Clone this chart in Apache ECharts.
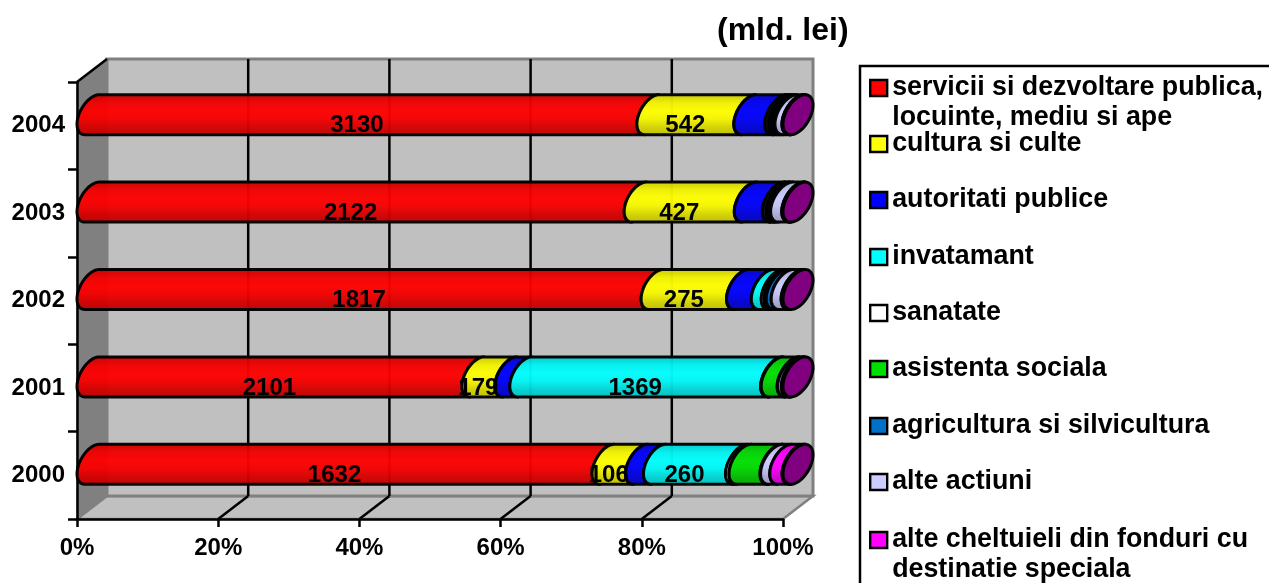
<!DOCTYPE html>
<html><head><meta charset="utf-8">
<style>html,body{margin:0;padding:0;background:#fff;overflow:hidden}#c{width:1269px;height:583px}</style>
<script src="https://cdn.jsdelivr.net/npm/echarts@6/dist/echarts.min.js"></script>
</head><body><div id="c"></div>
<script>
var years = ['2000','2001','2002','2003','2004'];
var seriesNames = ['servicii si dezvoltare publica,\nlocuinte, mediu si ape','cultura si culte','autoritati publice','invatamant','sanatate','asistenta sociala','agricultura si silvicultura','alte actiuni','alte cheltuieli din fonduri cu\ndestinatie speciala','alte'];
var colors = ['#ff0000','#ffff00','#0000ff','#00ffff','#ffffff','#00e000','#0070c8','#ccccff','#ff00ff','#800080'];
var servicii = [1632,2101,1817,2122,3130];
var cultura  = [106,179,275,427,542];
var autoritati = [57,82,80,109,173];
var invatamant = [260,1369,32,4,6];
var sanatate = [11,3,10,12,17];
var asistenta = [98,87,6,4,17];
var agricultura = [2,3,16,12,17];
var alteActiuni = [29,20,32,43,39];
var alteFonduri = [39,4,3,3,3];
var altele = [3,5,3,2,3];
var valueLists = [servicii,cultura,autoritati,invatamant,sanatate,asistenta,agricultura,alteActiuni,alteFonduri,altele];
var shownLabels = [servicii,cultura,null,[260,1369,null,null,null],null,null,null,null,null,null];
var xTicks = [0,20,40,60,80,100];

var totals = years.map(function(_,i){var s=0;valueLists.forEach(function(l){s+=l[i]});return s});
var DX=30, DY=-23;
var chart = echarts.init(document.getElementById('c'));

function arc(cx,cy,rev){
  var t0=Math.atan2(9.5,17.6), pts=[], n=28;
  for(var k=0;k<=n;k++){var t=t0-Math.PI*k/n; pts.push([cx+15*Math.sin(t), cy-17.6*Math.cos(t)-9.5*Math.sin(t)]);}
  return rev?pts.reverse():pts;
}
function shade(hex,top,bot){
  var c=echarts.color.parse(hex);
  function d(f){return 'rgb('+Math.round(c[0]*f)+','+Math.round(c[1]*f)+','+Math.round(c[2]*f)+')';}
  return {type:'linear',x:0,y:top,x2:0,y2:bot,global:true,colorStops:[{offset:0,color:d(.78)},{offset:.22,color:d(.95)},{offset:.42,color:d(1)},{offset:.6,color:d(.96)},{offset:.82,color:d(.82)},{offset:1,color:d(.74)}]};
}
var series=[];
series.push({type:'custom',silent:true,z:1,data:[0],renderItem:function(p,api){
  var topY=p.coordSys.y; var botY=p.coordSys.y+p.coordSys.height;
  var x0=p.coordSys.x,x1=p.coordSys.x+p.coordSys.width;
  var kids=[
   {type:'polygon',shape:{points:[[x0,topY],[x0+DX,topY+DY],[x0+DX,botY+DY],[x0,botY]]},style:{fill:'#808080',stroke:'#6a6a6a',lineWidth:1}},
   {type:'polygon',shape:{points:[[x0,botY],[x1,botY],[x1+DX,botY+DY],[x0+DX,botY+DY]]},style:{fill:'#c0c0c0',stroke:'#808080',lineWidth:2.5}},
   {type:'rect',shape:{x:x0+DX,y:topY+DY,width:x1-x0,height:botY-topY},style:{fill:'#c0c0c0',stroke:'#808080',lineWidth:3}}
  ];
  xTicks.slice(1,5).forEach(function(v){var x=api.coord([v,0])[0];
    kids.push({type:'line',shape:{x1:x+DX,y1:topY+DY,x2:x+DX,y2:botY+DY},style:{stroke:'#000',lineWidth:2.5}});
    kids.push({type:'line',shape:{x1:x,y1:botY,x2:x+DX,y2:botY+DY},style:{stroke:'#000',lineWidth:2.5}});
  });
  kids.push({type:'line',shape:{x1:x0,y1:topY,x2:x0+DX,y2:topY+DY},style:{stroke:'#000',lineWidth:2.5}});
  return {type:'group',children:kids};
}});
valueLists.forEach(function(vals,si){
  series.push({type:'custom',name:seriesNames[si],silent:true,z:3,
   itemStyle:{color:colors[si]},
   data:vals.map(function(v,i){var b=0;for(var k=0;k<si;k++)b+=valueLists[k][i];
      return [b/totals[i]*100,(b+v)/totals[i]*100,i,v];}),
   encode:{x:[0,1],y:2},
   renderItem:function(p,api){
    var l=api.value(0),r=api.value(1),c=api.value(2);
    var pl=api.coord([l,c]),pr=api.coord([r,c]);
    var cy=pl[1]-11, xl=pl[0]+15, xr=pr[0]+15;
    var fill=shade(colors[si],cy-21,cy+21);
    var kids=[];
    var pts=arc(xl,cy,false).concat(arc(xr,cy,true));
    kids.push({type:'polygon',shape:{points:pts},style:{fill:fill,stroke:'#000',lineWidth:3,lineJoin:'round',opacity:.96}});
    if(si===valueLists.length-1){
      var a1=arc(xr,cy,false),a2=a1.map(function(q){return [2*xr-q[0],2*cy-q[1]]});
      kids.push({type:'polygon',shape:{points:a1.concat(a2)},style:{fill:colors[si],stroke:'#000',lineWidth:3}});
    }
    return {type:'group',children:kids};
   }});
});
shownLabels.forEach(function(vals,si){
  if(!vals)return;
  series.push({type:'custom',silent:true,z:5,
   data:vals.map(function(v,i){var b=0;for(var k=0;k<si;k++)b+=valueLists[k][i];
      return [b/totals[i]*100,(b+valueLists[si][i])/totals[i]*100,i,v===null?'':v];}),
   encode:{x:[0,1],y:2},
   renderItem:function(p,api){
    var l=api.value(0),r=api.value(1),c=api.value(2);
    var i=p.dataIndex, v=vals[i];
    if(v===null)return null;
    var pl=api.coord([l,c]),pr=api.coord([r,c]);
    return {type:'text',style:{x:(pl[0]+pr[0])/2,y:pl[1],text:String(v),fill:'#000',font:'bold 24px "Liberation Sans"',align:'center',verticalAlign:'middle'}};
   }});
});
var symbolCenters=[88,144,200,257,313,369,426,482,540];
var legends=symbolCenters.map(function(cy,i){
  var two=seriesNames[i].indexOf('\n')>=0;
  return {show:true,left:864,top:two?cy-50:cy-20,padding:5,orient:'vertical',data:[{name:seriesNames[i],icon:'rect'}],itemWidth:17,itemHeight:16,itemGap:0,
    selectedMode:false,
    itemStyle:{borderColor:'#000',borderWidth:2.4},
    textStyle:{fontFamily:'Liberation Sans',fontWeight:'bold',fontSize:26.8,color:'#000',lineHeight:30},
    formatter:function(n){return two?'\u00a0\n'+n:n}};
});
chart.setOption({
 animation:false,backgroundColor:'#fff',
 title:{text:'(mld. lei)',left:712,top:10,textStyle:{fontFamily:'Liberation Sans',fontWeight:'bold',fontSize:32,color:'#000'}},
 legend:legends,
 grid:{left:77,top:82,width:706,height:437,containLabel:false},
 xAxis:{type:'value',min:0,max:100,interval:20,z:2,
   axisLine:{show:true,lineStyle:{color:'#000',width:2.5},onZero:false},
   axisTick:{show:true,length:8,lineStyle:{color:'#000',width:2.5}},
   splitLine:{show:false},
   axisLabel:{formatter:'{value}%',color:'#000',fontFamily:'Liberation Sans',fontWeight:'bold',fontSize:24,margin:17,hideOverlap:false}},
 yAxis:{type:'category',data:years,boundaryGap:true,z:2,
   axisLine:{show:true,lineStyle:{color:'#000',width:2.5},onZero:false},
   axisTick:{show:true,length:9,alignWithLabel:false,lineStyle:{color:'#000',width:2.5}},
   axisLabel:{color:'#000',fontFamily:'Liberation Sans',fontWeight:'bold',fontSize:24,margin:12}},
 graphic:[{type:'rect',z:-1,shape:{x:860,y:66,width:420,height:540},style:{fill:'#fff',stroke:'#000',lineWidth:2.5}}],
 series:series
});
</script></body></html>
